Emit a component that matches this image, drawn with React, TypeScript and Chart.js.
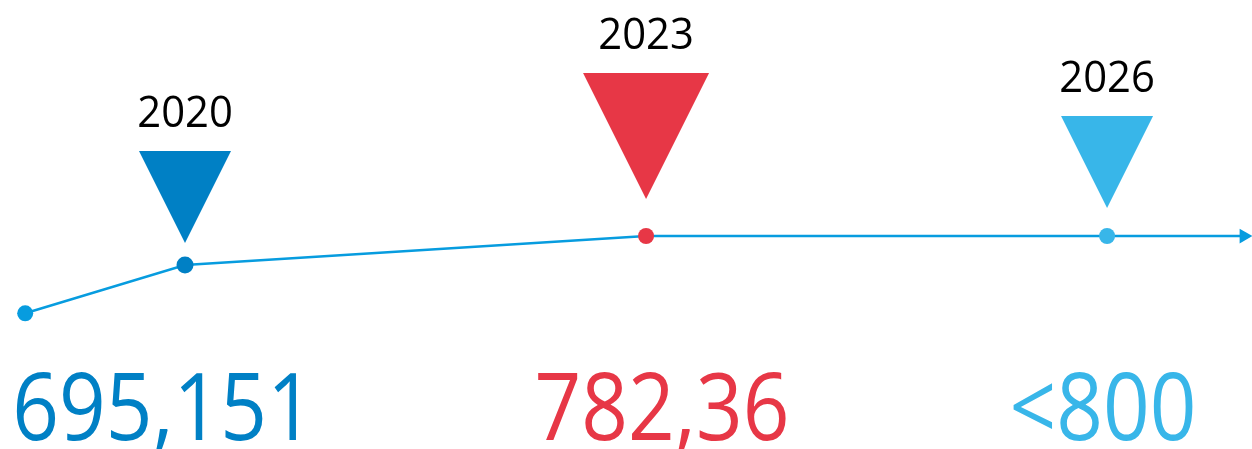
import React, { useEffect, useRef } from 'react';
import { Chart, registerables } from 'chart.js';

Chart.register(...registerables);

// ---- data ----
const years = [2018.96, 2020, 2023, 2026, 2026.89];
const levels = [550, 695.151, 782.36, 782.36, 782.36];
const markerIndex = [1, 2, 3];
const markerYears = ['2020', '2023', '2026'];
const valueLabels = ['695,151', '782,36', '<800'];

// ---- styles ----
const LINE = '#079CDF';
const markerColors = ['#0080C5', '#E73746', '#38B6E9'];
const pointColors = [LINE, '#0080C5', '#E73746', '#38B6E9', LINE];
const markerSize = [92, 126, 92];
const markerGap = [22, 37, 28];
const valueOffset = [-22, 16, -4];
const FONT = '"Open Sans", "Noto Sans", sans-serif';

const overlayPlugin = {
  id: 'overlay',
  afterDatasetsDraw(chart: any) {
    const ctx = chart.ctx;
    const meta = chart.getDatasetMeta(0);
    ctx.save();
    markerIndex.forEach((idx, k) => {
      const p = meta.data[idx];
      const s = markerSize[k];
      const apexY = p.y - markerGap[k];
      const topY = apexY - s;
      ctx.fillStyle = markerColors[k];
      ctx.beginPath();
      ctx.moveTo(p.x - s / 2, topY);
      ctx.lineTo(p.x + s / 2, topY);
      ctx.lineTo(p.x, apexY);
      ctx.closePath();
      ctx.fill();

      // year label
      ctx.save();
      ctx.translate(p.x, topY - 24);
      ctx.scale(0.95, 1);
      ctx.font = `44px ${FONT}`;
      ctx.fillStyle = '#000';
      ctx.textAlign = 'center';
      ctx.textBaseline = 'alphabetic';
      ctx.fillText(markerYears[k], 0, 0);
      ctx.restore();

      // value label
      ctx.save();
      ctx.translate(p.x + valueOffset[k], 440);
      ctx.scale(0.87, 1);
      ctx.font = `94px ${FONT}`;
      ctx.fillStyle = markerColors[k];
      ctx.textAlign = 'center';
      ctx.textBaseline = 'alphabetic';
      ctx.fillText(valueLabels[k], 0, 0);
      ctx.restore();
    });
    ctx.restore();
  },
};

export default function App() {
  const ref = useRef<HTMLCanvasElement>(null);
  useEffect(() => {
    document.body.style.margin = '0';
    if (!ref.current) return;
    const chart = new Chart(ref.current, {
      type: 'line',
      data: {
        datasets: [
          {
            data: years.map((x, i) => ({ x, y: levels[i] })),
            borderColor: LINE,
            borderWidth: 2.5,
            pointRadius: [8, 8.5, 8, 8, 8.5],
            pointBackgroundColor: pointColors,
            pointBorderWidth: 0,
            pointStyle: ['circle', 'circle', 'circle', 'circle', 'triangle'] as any,
            pointRotation: [0, 0, 0, 0, 90],
            tension: 0,
            clip: false as any,
          },
        ],
      },
      options: {
        animation: false,
        responsive: false,
        maintainAspectRatio: false,
        layout: { padding: 0, autoPadding: false } as any,
        plugins: { legend: { display: false }, tooltip: { enabled: false } },
        scales: {
          x: { type: 'linear', display: false, min: 2018.796, max: 2026.943 },
          y: { type: 'linear', display: false, min: 142, max: 1492 },
        },
      },
      plugins: [overlayPlugin],
    });
    return () => chart.destroy();
  }, []);
  return (
    <div style={{ width: 1252, height: 449 }}>
      <canvas ref={ref} width={1252} height={449} />
    </div>
  );
}
